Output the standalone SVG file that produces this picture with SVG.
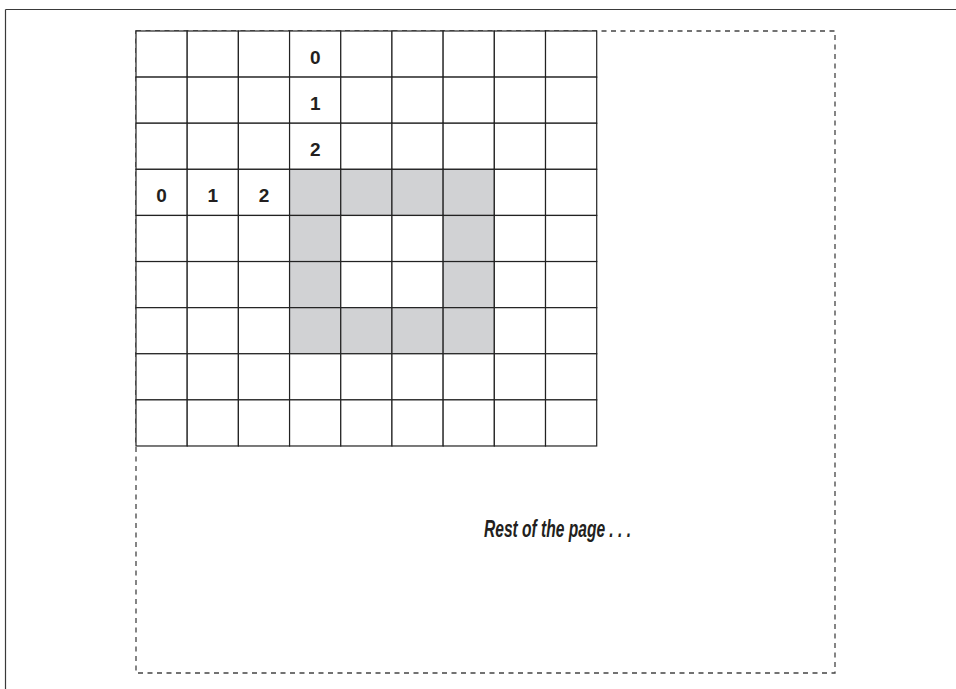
<svg xmlns="http://www.w3.org/2000/svg" width="956" height="689" viewBox="0 0 956 689">
<style>
.frame{stroke:#3a3a3a;stroke-width:1.2;fill:none}
.dash{stroke:#444;stroke-width:1.3;fill:none;stroke-dasharray:5 4.5}
.cell{fill:#fff;stroke:#222;stroke-width:1.2}
.shade{fill:#d1d2d4;stroke:#222;stroke-width:1.2}
.num{font-family:"Liberation Sans",Arial,sans-serif;font-weight:bold;font-size:19px;fill:#231f20;text-anchor:middle}
.note{font-family:"Liberation Sans",Arial,sans-serif;font-weight:bold;font-style:italic;font-size:23px;fill:#231f20}
</style>
<rect width="956" height="689" fill="#fff"/>
<g id="frame">
<line class="frame" x1="5.5" y1="9.5" x2="956" y2="9.5"/>
<line class="frame" x1="5.5" y1="9.5" x2="5.5" y2="689"/>
</g>
<g id="page">
<rect class="dash" x="136" y="31" width="699" height="642"/>
</g>
<g id="grid">
<rect class="cell" x="136" y="31" width="51.19" height="46.11"/><rect class="cell" x="187.19" y="31" width="51.19" height="46.11"/><rect class="cell" x="238.38" y="31" width="51.19" height="46.11"/><rect class="cell" x="289.57" y="31" width="51.19" height="46.11"/><rect class="cell" x="340.76" y="31" width="51.19" height="46.11"/><rect class="cell" x="391.95" y="31" width="51.19" height="46.11"/><rect class="cell" x="443.14" y="31" width="51.19" height="46.11"/><rect class="cell" x="494.33" y="31" width="51.19" height="46.11"/><rect class="cell" x="545.52" y="31" width="51.19" height="46.11"/>
<rect class="cell" x="136" y="77.11" width="51.19" height="46.11"/><rect class="cell" x="187.19" y="77.11" width="51.19" height="46.11"/><rect class="cell" x="238.38" y="77.11" width="51.19" height="46.11"/><rect class="cell" x="289.57" y="77.11" width="51.19" height="46.11"/><rect class="cell" x="340.76" y="77.11" width="51.19" height="46.11"/><rect class="cell" x="391.95" y="77.11" width="51.19" height="46.11"/><rect class="cell" x="443.14" y="77.11" width="51.19" height="46.11"/><rect class="cell" x="494.33" y="77.11" width="51.19" height="46.11"/><rect class="cell" x="545.52" y="77.11" width="51.19" height="46.11"/>
<rect class="cell" x="136" y="123.22" width="51.19" height="46.11"/><rect class="cell" x="187.19" y="123.22" width="51.19" height="46.11"/><rect class="cell" x="238.38" y="123.22" width="51.19" height="46.11"/><rect class="cell" x="289.57" y="123.22" width="51.19" height="46.11"/><rect class="cell" x="340.76" y="123.22" width="51.19" height="46.11"/><rect class="cell" x="391.95" y="123.22" width="51.19" height="46.11"/><rect class="cell" x="443.14" y="123.22" width="51.19" height="46.11"/><rect class="cell" x="494.33" y="123.22" width="51.19" height="46.11"/><rect class="cell" x="545.52" y="123.22" width="51.19" height="46.11"/>
<rect class="cell" x="136" y="169.33" width="51.19" height="46.11"/><rect class="cell" x="187.19" y="169.33" width="51.19" height="46.11"/><rect class="cell" x="238.38" y="169.33" width="51.19" height="46.11"/><rect class="shade" x="289.57" y="169.33" width="51.19" height="46.11"/><rect class="shade" x="340.76" y="169.33" width="51.19" height="46.11"/><rect class="shade" x="391.95" y="169.33" width="51.19" height="46.11"/><rect class="shade" x="443.14" y="169.33" width="51.19" height="46.11"/><rect class="cell" x="494.33" y="169.33" width="51.19" height="46.11"/><rect class="cell" x="545.52" y="169.33" width="51.19" height="46.11"/>
<rect class="cell" x="136" y="215.44" width="51.19" height="46.11"/><rect class="cell" x="187.19" y="215.44" width="51.19" height="46.11"/><rect class="cell" x="238.38" y="215.44" width="51.19" height="46.11"/><rect class="shade" x="289.57" y="215.44" width="51.19" height="46.11"/><rect class="cell" x="340.76" y="215.44" width="51.19" height="46.11"/><rect class="cell" x="391.95" y="215.44" width="51.19" height="46.11"/><rect class="shade" x="443.14" y="215.44" width="51.19" height="46.11"/><rect class="cell" x="494.33" y="215.44" width="51.19" height="46.11"/><rect class="cell" x="545.52" y="215.44" width="51.19" height="46.11"/>
<rect class="cell" x="136" y="261.55" width="51.19" height="46.11"/><rect class="cell" x="187.19" y="261.55" width="51.19" height="46.11"/><rect class="cell" x="238.38" y="261.55" width="51.19" height="46.11"/><rect class="shade" x="289.57" y="261.55" width="51.19" height="46.11"/><rect class="cell" x="340.76" y="261.55" width="51.19" height="46.11"/><rect class="cell" x="391.95" y="261.55" width="51.19" height="46.11"/><rect class="shade" x="443.14" y="261.55" width="51.19" height="46.11"/><rect class="cell" x="494.33" y="261.55" width="51.19" height="46.11"/><rect class="cell" x="545.52" y="261.55" width="51.19" height="46.11"/>
<rect class="cell" x="136" y="307.66" width="51.19" height="46.11"/><rect class="cell" x="187.19" y="307.66" width="51.19" height="46.11"/><rect class="cell" x="238.38" y="307.66" width="51.19" height="46.11"/><rect class="shade" x="289.57" y="307.66" width="51.19" height="46.11"/><rect class="shade" x="340.76" y="307.66" width="51.19" height="46.11"/><rect class="shade" x="391.95" y="307.66" width="51.19" height="46.11"/><rect class="shade" x="443.14" y="307.66" width="51.19" height="46.11"/><rect class="cell" x="494.33" y="307.66" width="51.19" height="46.11"/><rect class="cell" x="545.52" y="307.66" width="51.19" height="46.11"/>
<rect class="cell" x="136" y="353.77" width="51.19" height="46.11"/><rect class="cell" x="187.19" y="353.77" width="51.19" height="46.11"/><rect class="cell" x="238.38" y="353.77" width="51.19" height="46.11"/><rect class="cell" x="289.57" y="353.77" width="51.19" height="46.11"/><rect class="cell" x="340.76" y="353.77" width="51.19" height="46.11"/><rect class="cell" x="391.95" y="353.77" width="51.19" height="46.11"/><rect class="cell" x="443.14" y="353.77" width="51.19" height="46.11"/><rect class="cell" x="494.33" y="353.77" width="51.19" height="46.11"/><rect class="cell" x="545.52" y="353.77" width="51.19" height="46.11"/>
<rect class="cell" x="136" y="399.88" width="51.19" height="46.11"/><rect class="cell" x="187.19" y="399.88" width="51.19" height="46.11"/><rect class="cell" x="238.38" y="399.88" width="51.19" height="46.11"/><rect class="cell" x="289.57" y="399.88" width="51.19" height="46.11"/><rect class="cell" x="340.76" y="399.88" width="51.19" height="46.11"/><rect class="cell" x="391.95" y="399.88" width="51.19" height="46.11"/><rect class="cell" x="443.14" y="399.88" width="51.19" height="46.11"/><rect class="cell" x="494.33" y="399.88" width="51.19" height="46.11"/><rect class="cell" x="545.52" y="399.88" width="51.19" height="46.11"/>
</g>
<g id="labels">
<text class="num" x="315.2" y="64">0</text>
<text class="num" x="315.2" y="110.1">1</text>
<text class="num" x="315.2" y="156.2">2</text>
<text class="num" x="161.6" y="202.3">0</text>
<text class="num" x="212.8" y="202.3">1</text>
<text class="num" x="264" y="202.3">2</text>
</g>
<g id="note">
<text class="note" x="484" y="537" textLength="147" lengthAdjust="spacingAndGlyphs">Rest of the page . . .</text>
</g>
</svg>
